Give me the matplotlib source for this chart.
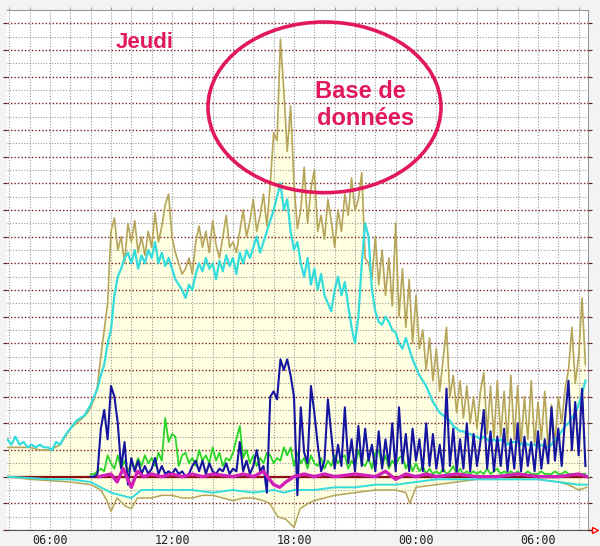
import numpy as np
import matplotlib.pyplot as plt
from matplotlib.patches import Ellipse

# time in hours from Thursday 00:00 (24+ = next day), values in grid units (10 = one major line)
t_cyan_early = [3.9, 4.1, 4.3, 4.5, 4.7, 4.9, 5.1, 5.3, 5.5, 5.7, 5.9, 6.1, 6.3, 6.5, 6.7, 6.9, 7.1, 7.3, 7.5, 7.7, 7.85]
cyan_early = [14, 12, 15, 12, 13, 11, 12, 11, 12, 11, 11, 10, 13, 12, 15, 17, 19, 21, 22, 23, 25]
t_olive_early = [3.9, 4.5, 5.0, 5.5, 6.0, 6.5, 7.0, 7.3, 7.6, 7.85]
olive_early = [11, 11, 11, 10, 10, 12, 18, 20, 22, 24]

# 10-minute samples from 08:00 to 08:20 next day
t_dense = 8 + np.arange(147) / 6

cyan = [27, 30, 33, 38, 42, 50,
        55, 68, 75, 78, 82, 84,
        80, 85, 78, 83, 80, 85,
        82, 88, 80, 84, 79, 82,
        78, 74, 72, 70, 67, 72,
        70, 76, 80, 77, 82, 78,
        80, 74, 81, 77, 83, 79,
        82, 76, 84, 80, 85, 82,
        86, 90, 84, 88, 92, 96,
        100, 105, 110, 100, 104, 92,
        85, 88, 80, 75, 82, 72,
        78, 70, 76, 68, 65, 62,
        70, 75, 68, 73, 64, 56,
        50, 60, 80, 95, 90, 70,
        62, 58, 57, 60, 58, 55,
        54, 50, 48, 52, 48, 44,
        41, 38, 36, 34, 31, 28,
        26, 24, 23, 22, 21, 19,
        18, 17, 17, 16, 16, 15,
        15, 14, 15, 14, 13, 14,
        13, 14, 13, 12, 13, 13,
        13, 12, 13, 12, 12, 12,
        11, 12, 11, 11, 12, 14,
        15, 17, 19, 20, 22, 24,
        27, 31, 36]

olive = [26, 29, 34, 45, 55, 65,
         92, 97, 85, 90, 80, 95,
         88, 96, 84, 90, 83, 92,
         86, 99, 88, 94, 102, 106,
         90, 84, 80, 76, 78, 82,
         76, 88, 94, 86, 92, 84,
         96, 87, 82, 90, 98, 86,
         88, 84, 92, 100, 90, 96,
         104, 92, 98, 106, 94, 110,
         129, 126, 164, 145, 122, 139,
         110, 93, 100, 116, 95, 108,
         115, 92, 98, 89, 104, 96,
         86, 100, 92, 106, 98, 112,
         100, 104, 114, 82, 80, 74,
         90, 72, 85, 68, 82, 64,
         95, 60, 78, 56, 74, 50,
         68, 48, 55, 40, 52, 36,
         48, 32, 44, 56, 30, 38,
         24, 36, 22, 34, 20, 30,
         18, 32, 39, 16, 34, 14,
         36, 15, 32, 13, 38, 14,
         34, 12, 30, 14, 36, 12,
         28, 14, 32, 11, 27, 12,
         30, 20, 33, 40, 56, 35,
         45, 67, 42]

blue = [0, 0, 1, 18, 25, 14,
        34, 30, 20, 3, 13, -3,
        7, 2, 6, 1, 4, 1,
        3, 7, 1, 4, 1, 2,
        1, 3, 1, 2, 0, 1,
        4, 6, 2, 6, 1, 5,
        2, 1, 3, 2, 5, 1,
        3, 2, 13, 2, 6, 1,
        4, 10, 2, 4, -6, 30,
        32, 29, 44, 40, 44, 38,
        30, -7, 26, 9, 5, 34,
        24, 12, 2, 6, 29, 16,
        3, 12, 4, 26, 5, 14,
        2, 19, 4, 18, 6, 12,
        2, 17, 3, 14, 4, 20,
        2, 26, 5, 16, 2, 18,
        6, 14, 2, 20, 4, 16,
        3, 12, 2, 33, 4, 18,
        2, 14, 3, 20, 2, 16,
        4, 13, 25, 3, 17, 2,
        15, 4, 18, 2, 14, 3,
        20, 2, 15, 4, 13, 2,
        17, 3, 14, 5, 26, 6,
        18, 4, 22, 36, 10, 28,
        8, 33, 4]

green = [1, 1, 2, 3, 2, 8,
         5, 3, 8, 3, 6, 2,
         5, 3, 7, 4, 8, 5,
         7, 4, 9, 6, 22, 13,
         16, 15, 4, 8, 9, 5,
         7, 4, 10, 6, 8, 5,
         11, 6, 9, 4, 7, 6,
         9, 14, 19, 7, 10, 5,
         8, 4, 7, 5, 9, 8,
         5, 7, 6, 11, 8, 11,
         4, 9, 5, 7, 3, 8,
         5, 4, 7, 3, 6, 4,
         8, 5, 7, 8, 3, 6,
         4, 10, 5, 4, 7, 3,
         9, 10, 4, 8, 3, 6,
         4, 7, 8, 3, 6, 2,
         5, 2, 4, 1, 3, 1,
         2, 1, 3, 1, 2, 4,
         1, 3, 1, 2, 1, 2,
         1, 2, 1, 3, 1, 2,
         3, 1, 2, 1, 2, 1,
         2, 1, 1, 2, 1, 1,
         1, 2, 1, 1, 1, 2,
         1, 1, 2, 1, 1, 1,
         1, 1, 1]

t_olive_lo = [3.9, 5, 6, 7, 8, 8.5, 8.8, 9.0, 9.3, 9.7, 10.0, 10.3, 11, 11.5, 12, 12.5, 13, 13.5,
              14, 14.5, 15, 15.5, 16, 16.5, 16.8, 17.2, 17.6, 18.0, 18.3, 18.7, 19, 20, 21, 22,
              23, 23.5, 23.7, 24, 25, 26, 27, 28, 29, 30, 31, 31.5, 32, 32.4]
olive_lo = [0, -1, -1.5, -2, -3, -5, -9, -13, -8, -11, -12, -8, -8, -7, -7, -8, -8, -7,
            -7, -8, -9, -8, -8, -9, -10, -15, -16, -19, -12, -10, -9, -7, -6, -5,
            -5, -6, -10, -4, -3, -2, -1, -1, -1, -1, -2, -3, -5, -4]

t_cyan_lo = [3.9, 5, 6, 7, 7.5, 8, 8.5, 9, 9.5, 10, 10.5, 11, 12, 13, 14, 15, 16, 17, 17.5,
             18, 19, 20, 21, 22, 23, 24, 25, 26, 27, 28, 29, 30, 31, 32, 32.4]
cyan_lo = [0, -0.5, -1, -1, -1.5, -2, -4, -6, -7, -8, -5, -5, -5, -5, -6, -5, -6, -5, -6,
           -5, -5, -4, -4, -3, -3, -2, -1, -1, -1, -1, -1, -1, -2, -3, -3]

t_mag = [8.4, 9.0, 9.3, 9.6, 10.0, 10.3, 10.6, 11, 11.5, 12, 12.5, 13, 13.5, 14, 15, 15.5, 16,
         16.5, 17, 17.3, 17.6, 18, 18.5, 19, 19.5, 20, 21, 22, 22.5, 23, 23.5, 24, 24.5, 25,
         26, 27, 28, 29, 30, 31, 32, 32.4]
magenta = [0, 1, -2, 3, -4, 2, 0, 1, 0, 1, 0, 1, 0, 1, 0, 1, 0,
           2, -3, -4, -2, 0, 1, 0, 1, 0, 1, 0, 2, -1, 1, 0, 1, 0,
           1, 0, 0, 1, 0, 0, 1, 0]

tick_pos = [6, 12, 18, 24, 30]
tick_lab = ['06:00', '12:00', '18:00', '00:00', '06:00']

t_olive = np.concatenate([t_olive_early, t_dense])
olive_all = np.concatenate([olive_early, olive])
t_cyan = np.concatenate([t_cyan_early, t_dense])
cyan_all = np.concatenate([cyan_early, cyan])

pink = '#E2185E'
olive_c = '#B5A55A'

fig = plt.figure(figsize=(6, 5.46), dpi=100, facecolor='#f3f3f3')
ax = fig.add_axes([7/600, 16/546, 581/600, 520/546])
ax.set_facecolor('white')

# fill under olive
ax.fill_between(t_olive, olive_all, 0, color='#FFFFE2', lw=0, zorder=1)
ax.fill_between(t_olive_lo, olive_lo, 0, color='#FFFFE2', lw=0, zorder=1)

ax.axhline(0, color='#8B1010', lw=1.6, zorder=3)
ax.plot(t_olive_lo, olive_lo, color=olive_c, lw=1.1, zorder=3)
ax.plot(t_cyan_lo, cyan_lo, color='#35DCDC', lw=1.4, zorder=3)
ax.plot(t_olive, olive_all, color=olive_c, lw=1.2, zorder=3)
ax.plot(t_cyan, cyan_all, color='#35DCDC', lw=1.6, zorder=4)
ax.plot(t_dense, green, color='#28D428', lw=1.3, zorder=5)
ax.plot(t_dense, blue, color='#1515A0', lw=1.5, zorder=6)
ax.plot(t_mag, magenta, color='#D020B8', lw=2.4, zorder=7)

ax.set_xlim(3.885, 32.46)
ax.set_ylim(-20, 175)

ax.set_xticks(tick_pos)
ax.set_xticklabels(tick_lab, family='DejaVu Sans Mono', fontsize=8.5, color='#222222')
ax.set_xticks(np.arange(4, 33), minor=True)
ax.set_yticks(np.arange(-20, 176, 10))
ax.set_yticks(np.arange(-15, 176, 10), minor=True)
ax.set_yticklabels([])

ax.grid(axis='x', which='both', color='#9a9a9a', lw=0.8, ls=(0, (1, 1.5)), zorder=2)
ax.grid(axis='y', which='major', color='#7A2020', lw=1.0, ls=(0, (1, 1.5)), zorder=2)
ax.grid(axis='y', which='minor', color='#9a9a9a', lw=0.8, ls=(0, (1, 1.5)), zorder=2)
ax.set_axisbelow(False)

ax.tick_params(axis='x', which='major', top=True, bottom=True, length=0, pad=3, color='#444444')
ax.tick_params(axis='x', which='minor', top=True, bottom=False, length=2, color='#888888')
ax.tick_params(axis='y', which='major', left=True, right=True, length=3, color='#5a2020')
ax.tick_params(axis='y', which='minor', left=False, right=False)

ax.spines['left'].set_visible(False)
for s in ['top', 'right']:
    ax.spines[s].set_color('#999999')
ax.spines['bottom'].set_color('#555555')

# red arrow at end of time axis
ax.plot([1.0, 1.012], [0, 0], color='red', lw=1, transform=ax.transAxes, clip_on=False)
ax.plot(1.012, 0, marker='>', ms=5, mfc='white', mec='red', transform=ax.transAxes, clip_on=False)

ax.text(10.67, 163, 'Jeudi', color=pink, fontsize=16, fontweight='bold',
        family='Liberation Sans', ha='center', va='center', zorder=9)
ax.add_patch(Ellipse((19.5, 138.5), 11.46, 64, fill=False, ec=pink, lw=2.6, zorder=9))
ax.text(19.03, 144.5, 'Base de', color=pink, fontsize=17, fontweight='bold',
        family='Liberation Sans', ha='left', va='center', zorder=9)
ax.text(19.13, 134.5, 'données', color=pink, fontsize=17, fontweight='bold',
        family='Liberation Sans', ha='left', va='center', zorder=9)

plt.savefig('out.png', dpi=100, facecolor=fig.get_facecolor())
